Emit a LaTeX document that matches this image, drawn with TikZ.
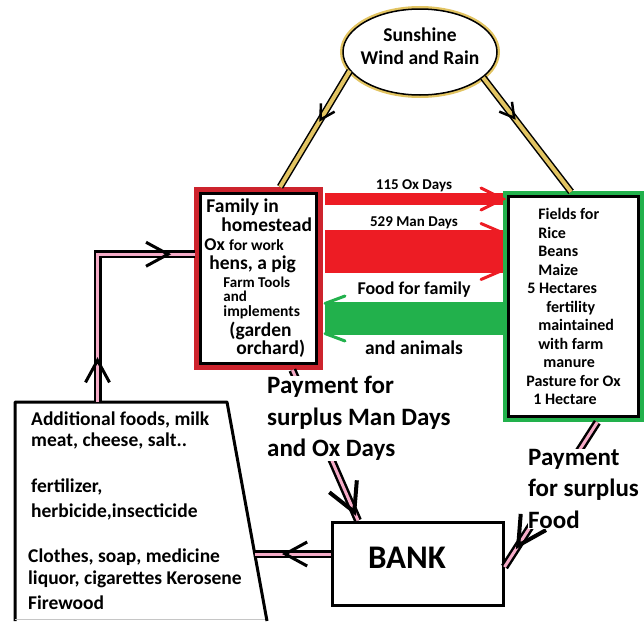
\documentclass[tikz,border=0pt]{standalone}
\usepackage{fontspec}
\setmainfont{Carlito}
\usetikzlibrary{calc,shapes.geometric,arrows.meta,decorations.markings}
\definecolor{bandred}{RGB}{237,28,36}
\definecolor{bandgreen}{RGB}{34,177,76}
\definecolor{homered}{RGB}{205,35,45}
\definecolor{cashpink}{RGB}{246,172,200}
\definecolor{sungold}{RGB}{226,196,98}
\newcommand{\fsz}[2]{\fontsize{#1}{#2}\selectfont}

\begin{document}
\begin{tikzpicture}[x=1pt,y=-1pt,
  homebox/.style={draw=black,line width=3pt,fill=white,preaction={draw=homered,line width=13pt},minimum width=116.5pt,minimum height=169.5pt,inner sep=2pt,align=left,font=\bfseries\fsz{19.5}{19}},
  fieldbox/.style={draw=black,line width=3pt,fill=white,preaction={draw=bandgreen,line width=11pt},minimum width=130pt,minimum height=220pt,inner sep=2pt,align=left,font=\bfseries\fsz{16}{18.5}},
  sunnode/.style={ellipse,draw=black,line width=1.5pt,fill=white,preaction={draw=sungold,line width=6pt},minimum width=154pt,minimum height=86pt,inner xsep=-10pt,inner ysep=0pt,text depth=12pt,align=center,font=\bfseries\fsz{19.5}{23}},
  bankbox/.style={draw=black,line width=3pt,fill=white,minimum height=83pt,text width=99pt,inner xsep=36pt,text depth=12pt,align=left,font=\bfseries\fsz{33}{36}},
  lbl/.style={inner sep=0pt,outer sep=0pt,text=black,font=\bfseries\fsz{#1}{#1}},
  paytext/.style={fill=white,inner sep=0pt,align=left,anchor=north west,font=\bfseries\fsz{25}{31.5}},
  arm/.style={draw=#1,line width=3pt,line cap=round},
  sunline/.style={draw=black,line width=1.5pt,double=sungold,double distance=4pt},
  cashline/.style={draw=black,line width=2.5pt,double=cashpink,double distance=3pt},
  tipat/.style={postaction={decorate,decoration={markings,mark=at position #1 with {\arrow{Straight Barb[length=22pt,width=24pt,line width=3pt]}}}}},
  bigtipat/.style={postaction={decorate,decoration={markings,mark=at position #1 with {\arrow{Straight Barb[length=28pt,width=30pt,line width=4pt]}}}}},
  suntipat/.style={postaction={decorate,decoration={markings,mark=at position #1 with {\arrow{Straight Barb[length=14pt,width=16pt,line width=2.5pt]}}}}}]
  \useasboundingbox (0,0) rectangle (644,621);

  \node[sunnode] (sun) at (420,52) {Sunshine\\Wind and Rain};
  \node[homebox] (family) at (258.25,278.25) {\hspace*{2pt}Family in\\
    \hspace*{17pt}homestead\\
    {\fsz{18}{19}Ox} {\fsz{15.5}{19}for work}\\
    \hspace*{5pt}hens, a pig\\[-1pt]
    \hspace*{19pt}{\fsz{15}{15}Farm Tools}\\[-5pt]
    \hspace*{19pt}{\fsz{15}{15}and}\\[-4pt]
    \hspace*{19pt}{\fsz{15.5}{15}implements}\\[1pt]
    \hspace*{25pt}(garden\\[-1pt]
    \hspace*{32pt}orchard)};
  \node[fieldbox] (fields) at (573.5,306.5) {\hspace*{12pt}Fields for\\
    \hspace*{12pt}Rice\\
    \hspace*{12pt}Beans\\
    \hspace*{12pt}Maize\\
    \hspace*{1pt}5 Hectares\\
    \hspace*{20pt}fertility\\
    \hspace*{12pt}maintained\\
    \hspace*{12pt}with farm\\
    \hspace*{17pt}manure\\
    Pasture for Ox\\
    \hspace*{7pt}1 Hectare};

  \foreach \yy/\nm in {199/ox,251.5/man,318.5/food}{
    \coordinate (\nm L) at ($(family.east |- 0,\yy)+(7,0)$);
    \coordinate (\nm R) at ($(fields.west |- 0,\yy)+(-4,0)$);
  }
  \draw[bandred,line width=12pt] (oxL) -- (oxR) node[midway,above=7.5pt,lbl=15] (oxlbl) {115 Ox Days};
  \draw[arm=bandred] (oxR) ++(-22,-11) -- ++(22,11) -- ++(-22,11);
  \draw[bandred,line width=43pt] (manL) -- (manR) node[midway,above=23pt,lbl=15] (manlbl) {529 Man Days};
  \foreach \s in {1,-1} \draw[arm=bandred] (manR) ++(-22,-28*\s) -- ++(21,9*\s);
  \draw[bandgreen,line width=33pt] (foodR) -- (foodL) node[midway,above=21pt,lbl=18] (foodlbl) {Food for family}
    node[midway,below=22.5pt,lbl=19.5] (animlbl) {and animals};
  \foreach \s in {1,-1} \draw[arm=bandgreen] (foodL) ++(20,-22.5*\s) -- ++(-20,7.5*\s);

  \draw[sunline,suntipat=0.42,shorten >=6pt] (sun.195.5) -- (family.north -| 277,0);
  \draw[sunline,suntipat=0.36,shorten >=4pt] (sun.338) -- (fields.north);

  \node[bankbox] (bank) at (417.5,563.5) {BANK};
  \draw[line width=3pt,line join=round] (15,621) -- (15,402) -- (227,402) -- (267,621);
  \draw[gray!45,line width=1pt] (15,619) -- (265,619);
  \coordinate (shoptop) at (97.5,402);
  \coordinate (shopside) at (254.8,554);
  \node[anchor=north west,align=left,inner sep=0pt,font=\bfseries\fsz{19.5}{22}] (buy) at (28,412)
    {\hspace*{3pt}Additional foods, milk\\[-1pt]
     \hspace*{3pt}meat, cheese, salt..\\[24pt]
     \hspace*{3pt}fertilizer,\\[3pt]
     \hspace*{3pt}herbicide,insecticide\\[23pt]
     Clothes, soap, medicine\\
     liquor, cigarettes Kerosene\\[3pt]
     Firewood};

  \draw[cashline,tipat=0.18,tipat=0.89,shorten >=4pt] (shoptop) |- ([yshift=24pt]family.west);
  \draw[cashline,tipat=0.64] (bank.west |- shopside) -- (shopside);
  \draw[cashline,bigtipat=0.97,shorten <=6pt] (family.south -| 290,0) -- (bank.north -| 358,0);
  \draw[cashline,bigtipat=0.88,shorten <=5pt] (fields.south -| 600,0) -- (bank.east |- 0,567);

  \node[paytext] (paywork) at (267,376) {Payment for\\surplus Man Days\\and Ox Days};
  \node[paytext] (payfood) at (528,449) {Payment\\for surplus\\Food};
\end{tikzpicture}
\end{document}
